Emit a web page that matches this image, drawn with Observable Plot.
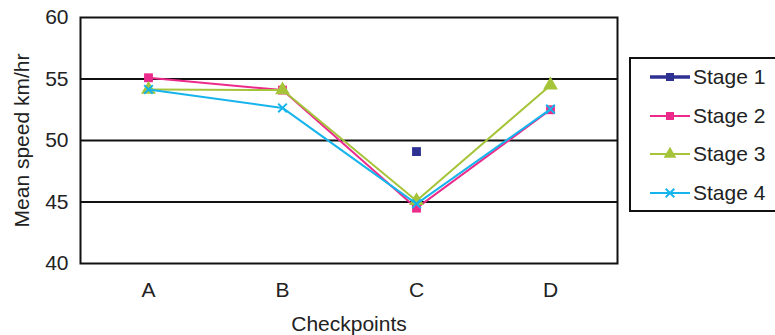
<!DOCTYPE html>
<html>
<head>
<meta charset="utf-8">
<script src="https://cdn.jsdelivr.net/npm/d3@7"></script>
<script src="https://cdn.jsdelivr.net/npm/@observablehq/plot@0.6"></script>
<style>
  body { margin: 0; background: #fff; }
  #wrap { position: relative; width: 775px; height: 335px; overflow: hidden; font-family: "Liberation Sans", Arial, sans-serif; }
  #legend { position: absolute; left: 629px; top: 57px; width: 160px; height: 155px; border: 2px solid #111; box-sizing: border-box; background: #fff; }
  .item { position: absolute; left: 18px; height: 24px; display: flex; align-items: center; font-size: 21px; color: #222; }
  .item svg { display: block; margin-right: 2px; }
</style>
</head>
<body>
<div id="wrap"></div>
<script>
const checkpoints = ["A", "B", "C", "D"];
const seriesNames = ["Stage 1", "Stage 2", "Stage 3", "Stage 4"];
const stage1 = [null, null, 49.1, null];
const stage2 = [55.1, 54.1, 44.5, 52.5];
const stage3 = [54.15, 54.1, 45.1, 54.5];
const stage4 = [54.15, 52.65, 44.85, 52.55];
const yTicks = [40, 45, 50, 55, 60];
const gridValues = [45, 50, 55];
const colors = ["#2e3192", "#ec2a8c", "#a6c43a", "#16b4ec"];

const allSeries = [stage1, stage2, stage3, stage4];
const rows = [];
allSeries.forEach((vals, s) => {
  vals.forEach((v, i) => {
    if (v != null) rows.push({stage: seriesNames[s], checkpoint: checkpoints[i], value: v});
  });
});
const bySeries = name => rows.filter(d => d.stage === name);

const chart = Plot.plot({
  width: 775,
  height: 335,
  marginLeft: 80,
  marginRight: 158,
  marginTop: 17,
  marginBottom: 72,
  style: {fontFamily: "Liberation Sans, Arial, sans-serif", fontSize: "21px", color: "#222", background: "transparent"},
  x: {type: "point", domain: checkpoints, padding: 0.5, label: null},
  y: {domain: [40, 60], label: null},
  color: {domain: seriesNames, range: colors},
  marks: [
    Plot.ruleY(gridValues, {stroke: "#111", strokeWidth: 2}),
    Plot.frame({stroke: "#111", strokeWidth: 2}),
    Plot.axisY(yTicks, {tickSize: 0, tickPadding: 12, fontSize: 21}),
    Plot.axisX({tickSize: 0, tickPadding: 19, fontSize: 21}),
    Plot.text(["Checkpoints"], {frameAnchor: "bottom", dy: 67, lineAnchor: "bottom", fontSize: 21, fill: "#222"}),
    Plot.text(["Mean speed km/hr"], {frameAnchor: "left", textAnchor: "middle", dx: -58, rotate: -90, fontSize: 21, fill: "#222"}),
    Plot.dot(bySeries("Stage 1"), {x: "checkpoint", y: "value", symbol: "square", r: 5, fill: colors[0], stroke: "none"}),
    Plot.line(bySeries("Stage 2"), {x: "checkpoint", y: "value", stroke: colors[1], strokeWidth: 2}),
    Plot.dot(bySeries("Stage 2"), {x: "checkpoint", y: "value", symbol: "square", r: 5, fill: colors[1], stroke: "none"}),
    Plot.line(bySeries("Stage 3"), {x: "checkpoint", y: "value", stroke: colors[2], strokeWidth: 2}),
    Plot.dot(bySeries("Stage 3"), {x: "checkpoint", y: "value", symbol: "triangle", r: 5.5, fill: colors[2], stroke: "none"}),
    Plot.line(bySeries("Stage 4"), {x: "checkpoint", y: "value", stroke: colors[3], strokeWidth: 2}),
    Plot.dot(bySeries("Stage 4"), {x: "checkpoint", y: "value", symbol: "times", r: 4, stroke: colors[3], strokeWidth: 2, fill: "none"})
  ]
});

const wrap = document.getElementById("wrap");
wrap.appendChild(chart);

// Legend
const legend = document.createElement("div");
legend.id = "legend";
const symbols = ["square", "square", "triangle", "times"];
const lineWidths = [3.5, 2, 2, 2];
seriesNames.forEach((name, i) => {
  const item = document.createElement("div");
  item.className = "item";
  item.style.top = (6 + i * 38.5) + "px";
  const svg = d3.create("svg").attr("width", 42).attr("height", 24);
  svg.append("line").attr("x1", 1).attr("x2", 41).attr("y1", 12).attr("y2", 12)
    .attr("stroke", colors[i]).attr("stroke-width", lineWidths[i]);
  const sym = {square: d3.symbolSquare, triangle: d3.symbolTriangle, times: d3.symbolTimes}[symbols[i]];
  const size = symbols[i] === "triangle" ? 70 : symbols[i] === "times" ? 50 : 64;
  const p = svg.append("path").attr("transform", "translate(21,12)").attr("d", d3.symbol(sym, size)());
  if (symbols[i] === "times") p.attr("fill", "none").attr("stroke", colors[i]).attr("stroke-width", 2);
  else p.attr("fill", colors[i]);
  item.appendChild(svg.node());
  const label = document.createElement("span");
  label.textContent = name;
  item.appendChild(label);
  legend.appendChild(item);
});
wrap.appendChild(legend);
</script>
</body>
</html>
